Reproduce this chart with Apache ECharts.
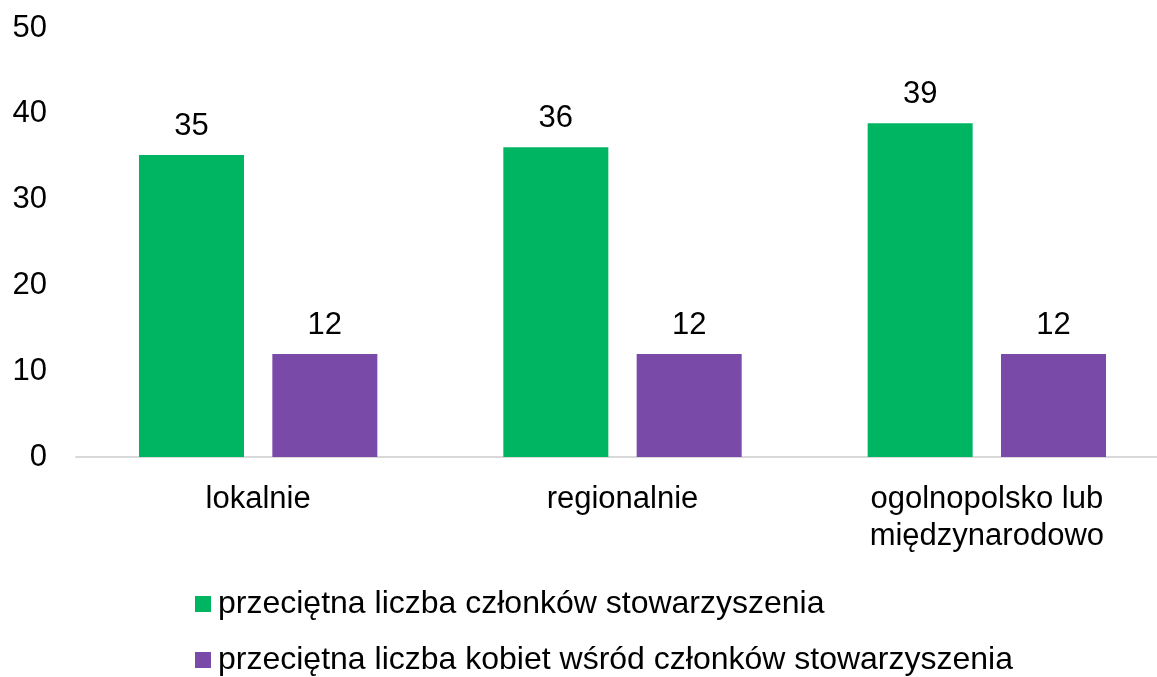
<!DOCTYPE html>
<html>
<head>
<meta charset="utf-8">
<script src="https://cdn.jsdelivr.net/npm/echarts@6/dist/echarts.min.js"></script>
<style>
  html, body { margin: 0; padding: 0; background: #fff; }
  #chart { width: 1157px; height: 677px; }
</style>
</head>
<body>
<div id="chart"></div>
<script>
const categories = ["lokalnie", "regionalnie", "ogolnopolsko lub\nmiędzynarodowo"];
const seriesNames = [
  "przeciętna liczba członków stowarzyszenia",
  "przeciętna liczba kobiet wśród członków stowarzyszenia"
];
const members = [35.2, 36.1, 38.9];
const women = [12.0, 12.0, 12.0];

const font = "Liberation Sans, Arial, sans-serif";
const fs = 31;
const chart = echarts.init(document.getElementById("chart"));

// one legend per row so they sit at fixed heights
const legendRow = (name, top) => ({
  orient: "horizontal",
  left: 190,
  top: top,
  itemWidth: 16,
  itemHeight: 16,
  icon: "rect",
  textStyle: { fontSize: 32, color: "#000", fontFamily: font, padding: [0, 0, 0, 2] },
  data: [name]
});

chart.setOption({
  animation: false,
  textStyle: { fontFamily: font },
  grid: { left: 76, width: 1093, top: 28, bottom: 220, outerBoundsMode: "none" },
  legend: [legendRow(seriesNames[0], 583), legendRow(seriesNames[1], 639)],
  xAxis: {
    type: "category",
    data: categories,
    axisLine: { lineStyle: { color: "#d9d9d9", width: 2 } },
    axisTick: { show: false },
    axisLabel: { fontSize: fs, color: "#000", margin: 24, lineHeight: 37, fontFamily: font }
  },
  yAxis: {
    type: "value",
    min: 0,
    max: 50,
    interval: 10,
    splitLine: { show: false },
    axisLine: { show: false },
    axisLabel: { fontSize: fs, color: "#000", margin: 29, fontFamily: font }
  },
  series: [
    {
      name: seriesNames[0],
      type: "bar",
      data: members,
      barWidth: 105,
      barGap: "27%",
      itemStyle: { color: "#00b562" },
      label: {
        show: true, position: "top", distance: 13, fontSize: fs, color: "#000",
        fontFamily: font, formatter: p => Math.round(p.value)
      }
    },
    {
      name: seriesNames[1],
      type: "bar",
      data: women,
      barWidth: 105,
      itemStyle: { color: "#7a4aa8" },
      label: {
        show: true, position: "top", distance: 13, fontSize: fs, color: "#000",
        fontFamily: font, formatter: p => Math.round(p.value)
      }
    }
  ]
});
</script>
</body>
</html>
